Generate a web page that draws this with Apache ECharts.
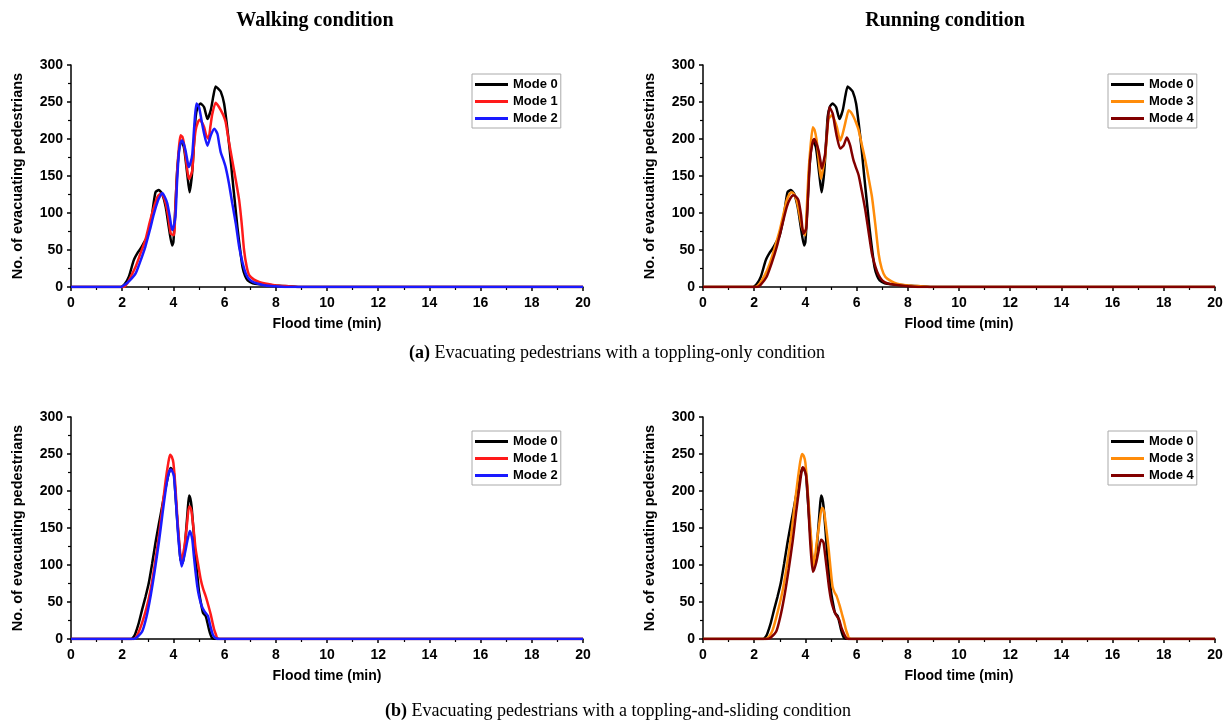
<!DOCTYPE html>
<html>
<head>
<meta charset="utf-8">
<title>Evacuating pedestrians</title>
<script src="https://cdn.jsdelivr.net/npm/echarts@6/dist/echarts.min.js"></script>
<style>
  html, body { margin: 0; padding: 0; background: #fff; }
  #chart { width: 1231px; height: 724px; }
</style>
</head>
<body>
<div id="chart"></div>
<script>
// [flood time (min), no. of evacuating pedestrians]
// (a) toppling-only
const toppleMode0 = [[0,0],[1.95,0],[2.1,4],[2.26,14],[2.45,36],[2.6,46],[2.72,52],[2.85,60],[2.98,68],[3.08,82],[3.17,99],[3.3,128],[3.43,131],[3.56,126],[3.7,108],[3.82,81],[3.95,56],[4.0,61],[4.08,110],[4.15,158],[4.28,198],[4.41,189],[4.54,153],[4.63,128],[4.74,158],[4.87,230],[4.96,244],[5.06,248],[5.2,243],[5.33,227],[5.46,239],[5.56,258],[5.65,271],[5.75,268],[5.85,264],[5.98,248],[6.1,216],[6.2,185],[6.3,149],[6.4,115],[6.5,81],[6.6,52],[6.7,27],[6.8,15],[6.9,9],[7.1,5],[7.35,3.6],[8,2],[8.5,1],[9,0],[20,0]];
const toppleMode1 = [[0,0],[2.05,0],[2.2,5],[2.35,15],[2.52,27],[2.7,44],[2.9,63],[3.08,88],[3.24,108],[3.38,122],[3.5,126],[3.6,123],[3.7,113],[3.8,95],[3.9,72],[4.02,70],[4.08,110],[4.15,158],[4.22,190],[4.28,205],[4.35,203],[4.41,194],[4.5,170],[4.6,146],[4.67,150],[4.74,158],[4.8,190],[4.87,212],[4.95,222],[5.03,226],[5.12,222],[5.2,216],[5.28,205],[5.37,200],[5.45,218],[5.52,234],[5.65,249],[5.75,245],[5.85,239],[5.95,232],[6.04,223],[6.15,200],[6.3,171],[6.45,142],[6.57,117],[6.67,85],[6.76,50],[6.86,28],[6.96,16],[7.15,10],[7.35,7],[7.7,4],[8,2],[8.5,1],[9,0],[20,0]];
const toppleMode2 = [[0,0],[1.95,0],[2.1,3],[2.3,9],[2.52,18],[2.7,34],[2.9,54],[3.08,77],[3.24,99],[3.4,117],[3.5,124],[3.56,127],[3.66,122],[3.76,113],[3.86,95],[3.95,77],[4.0,80],[4.08,95],[4.14,140],[4.21,180],[4.28,195],[4.34,198],[4.4,194],[4.47,185],[4.54,172],[4.6,162],[4.67,168],[4.74,180],[4.82,220],[4.9,248],[5.0,243],[5.1,225],[5.2,207],[5.33,191],[5.46,205],[5.6,214],[5.72,207],[5.78,195],[5.85,182],[5.95,172],[6.04,162],[6.17,140],[6.3,113],[6.44,85],[6.57,54],[6.7,33],[6.83,18],[6.95,11],[7.1,7],[7.35,4],[7.6,2],[8.0,1],[8.5,0],[20,0]];
const toppleMode3 = [[0,0],[2.05,0],[2.2,4],[2.4,15],[2.61,32],[2.8,53],[3.0,77],[3.14,98],[3.27,117],[3.37,125],[3.46,128],[3.56,125],[3.66,117],[3.76,100],[3.86,81],[3.99,70],[4.06,110],[4.12,153],[4.2,190],[4.29,216],[4.36,212],[4.44,198],[4.52,172],[4.61,146],[4.69,160],[4.77,176],[4.84,205],[4.9,227],[5.03,232],[5.13,226],[5.23,216],[5.36,198],[5.44,205],[5.52,216],[5.6,228],[5.69,239],[5.78,236],[5.88,230],[5.98,222],[6.08,212],[6.2,193],[6.34,171],[6.47,147],[6.6,122],[6.73,85],[6.86,45],[6.98,25],[7.12,14],[7.35,8],[7.58,4.5],[8,2],[8.5,1],[9,0],[20,0]];
const toppleMode4 = [[0,0],[2.1,0],[2.25,3],[2.48,13.5],[2.68,32],[2.88,54],[3.08,82],[3.27,108],[3.4,119],[3.53,124],[3.63,122],[3.73,117],[3.83,97],[3.92,72],[4.03,79],[4.1,120],[4.18,171],[4.26,192],[4.34,200],[4.42,195],[4.51,185],[4.58,172],[4.64,160],[4.7,168],[4.77,180],[4.86,215],[4.94,243],[5.07,234],[5.15,218],[5.23,203],[5.36,187],[5.49,191],[5.62,202],[5.68,198],[5.75,191],[5.82,180],[5.88,171],[5.98,161],[6.08,151],[6.2,130],[6.34,104],[6.47,74],[6.6,45],[6.73,28],[6.86,16],[7.0,9],[7.19,5],[7.5,3],[8,1],[8.5,0],[20,0]];

// (b) toppling-and-sliding
const slideMode0 = [[0,0],[2.35,0],[2.45,3],[2.52,8],[2.65,22],[2.78,40],[2.91,57],[3.04,76],[3.17,102],[3.3,130],[3.43,155],[3.56,179],[3.66,198],[3.76,215],[3.83,225],[3.89,231],[3.95,229],[4.02,224],[4.08,195],[4.15,161],[4.22,130],[4.28,107],[4.37,103],[4.43,118],[4.48,139],[4.55,170],[4.61,194],[4.66,190],[4.71,179],[4.79,145],[4.87,107],[4.94,84],[5.0,64],[5.08,48],[5.16,35],[5.26,31],[5.33,22],[5.39,13],[5.45,6],[5.52,1],[5.7,0],[20,0]];
const slideMode1 = [[0,0],[2.45,0],[2.6,6],[2.78,22],[2.95,42],[3.11,67],[3.27,100],[3.43,139],[3.57,178],[3.7,215],[3.8,238],[3.87,249],[3.94,246],[4.0,238],[4.08,205],[4.15,166],[4.23,130],[4.31,105],[4.38,115],[4.45,130],[4.53,155],[4.61,179],[4.66,178],[4.71,172],[4.79,148],[4.87,121],[4.97,100],[5.07,80],[5.16,68],[5.26,58],[5.36,46],[5.46,33],[5.53,22],[5.59,13],[5.66,6],[5.72,1],[5.9,0],[20,0]];
const slideMode2 = [[0,0],[2.45,0],[2.6,3],[2.78,10],[2.95,30],[3.11,58],[3.27,92],[3.43,130],[3.57,168],[3.7,202],[3.8,222],[3.89,229],[3.95,227],[4.02,220],[4.1,185],[4.18,143],[4.25,115],[4.32,98],[4.4,108],[4.48,121],[4.56,135],[4.64,146],[4.69,142],[4.74,134],[4.8,112],[4.87,89],[4.93,72],[5.0,58],[5.1,45],[5.22,37],[5.35,31],[5.44,18],[5.52,8],[5.59,3],[5.66,1],[5.8,0],[20,0]];
const slideMode3 = [[0,0],[2.45,0],[2.6,4],[2.73,13],[2.92,37],[3.12,67],[3.28,100],[3.44,139],[3.57,178],[3.7,215],[3.8,240],[3.87,250],[3.94,247],[4.0,238],[4.08,205],[4.16,166],[4.24,128],[4.31,98],[4.38,112],[4.44,130],[4.54,155],[4.64,177],[4.69,176],[4.74,170],[4.82,148],[4.91,121],[4.98,96],[5.06,71],[5.14,63],[5.22,58],[5.33,46],[5.45,31],[5.52,22],[5.58,13],[5.65,6],[5.71,1],[5.9,0],[20,0]];
const slideMode4 = [[0,0],[2.5,0],[2.65,2],[2.86,10],[3.02,30],[3.18,58],[3.35,95],[3.51,134],[3.64,172],[3.77,206],[3.85,226],[3.9,232],[3.96,229],[4.03,220],[4.1,190],[4.16,148],[4.22,115],[4.29,91],[4.35,95],[4.42,103],[4.51,118],[4.61,134],[4.66,133],[4.71,130],[4.79,108],[4.87,85],[4.93,68],[5.0,53],[5.1,40],[5.19,33],[5.32,26],[5.4,16],[5.48,9],[5.55,4],[5.61,1],[5.8,0],[20,0]];

const walkModes = ["Mode 0", "Mode 1", "Mode 2"];
const runModes = ["Mode 0", "Mode 3", "Mode 4"];
const modeColors = {
  "Mode 0": "#000000",
  "Mode 1": "#ff1a1a",
  "Mode 2": "#1a1aff",
  "Mode 3": "#ff8c0a",
  "Mode 4": "#820000"
};

const SANS = "Liberation Sans";
const SERIF = "Liberation Serif";

// grids: [left, top]
const grids = [
  { left: 71, top: 65 },
  { left: 703, top: 65 },
  { left: 71, top: 417 },
  { left: 703, top: 417 }
];

function line(name, data, idx) {
  return {
    name: name,
    type: "line",
    xAxisIndex: idx,
    yAxisIndex: idx,
    data: data,
    showSymbol: false,
    smooth: 0.2,
    animation: false,
    lineStyle: { color: modeColors[name], width: 2.5 },
    itemStyle: { color: modeColors[name] }
  };
}

function xAxis(idx) {
  return {
    type: "value",
    gridIndex: idx,
    min: 0,
    max: 20,
    interval: 2,
    name: "Flood time (min)",
    nameLocation: "middle",
    nameGap: 30,
    nameTextStyle: { fontFamily: SANS, fontWeight: "bold", fontSize: 14, color: "#000" },
    axisLine: { lineStyle: { color: "#000", width: 1.5 } },
    axisTick: { length: 4, lineStyle: { color: "#000", width: 1.5 } },
    minorTick: { show: true, splitNumber: 2, length: 3, lineStyle: { color: "#000", width: 1.2 } },
    axisLabel: { margin: 9, fontFamily: SANS, fontWeight: "bold", fontSize: 14, color: "#000" },
    splitLine: { show: false }
  };
}

function yAxis(idx) {
  return {
    type: "value",
    gridIndex: idx,
    min: 0,
    max: 300,
    interval: 50,
    name: "No. of evacuating pedestrians",
    nameLocation: "middle",
    nameGap: 46,
    nameTextStyle: { fontFamily: SANS, fontWeight: "bold", fontSize: 14.5, color: "#000" },
    axisLine: { show: true, lineStyle: { color: "#000", width: 1.5 } },
    axisTick: { show: true, length: 4, lineStyle: { color: "#000", width: 1.5 } },
    minorTick: { show: true, splitNumber: 2, length: 3, lineStyle: { color: "#000", width: 1.2 } },
    axisLabel: { margin: 8, fontFamily: SANS, fontWeight: "bold", fontSize: 14, color: "#000" },
    splitLine: { show: false }
  };
}

function legend(modes, left, top) {
  return {
    data: modes,
    left: left,
    top: top,
    orient: "vertical",
    icon: "rect",
    itemWidth: 33,
    itemHeight: 3,
    itemGap: 4,
    itemTextGap: 3,
    padding: [4, 3, 3, 3],
    borderColor: "#aaaaaa",
    borderWidth: 1,
    selectedMode: false,
    textStyle: { fontFamily: SANS, fontWeight: "bold", fontSize: 13, color: "#000", lineHeight: 13 }
  };
}

function caption(x, y, text, font, bold) {
  return {
    type: "text",
    x: x,
    y: y,
    style: {
      text: text,
      fill: "#000",
      font: font,
      align: "center",
      verticalAlign: "middle",
      rich: bold ? { b: { fontFamily: SERIF, fontWeight: "bold", fontSize: 18 } } : undefined
    }
  };
}

const chart = echarts.init(document.getElementById("chart"), null, { renderer: "canvas" });

const series = []
  .concat(walkModes.map((m, i) => line(m, [toppleMode0, toppleMode1, toppleMode2][i], 0)))
  .concat(runModes.map((m, i) => line(m, [toppleMode0, toppleMode3, toppleMode4][i], 1)))
  .concat(walkModes.map((m, i) => line(m, [slideMode0, slideMode1, slideMode2][i], 2)))
  .concat(runModes.map((m, i) => line(m, [slideMode0, slideMode3, slideMode4][i], 3)));

chart.setOption({
  backgroundColor: "#fff",
  animation: false,
  grid: grids.map(g => ({ left: g.left, top: g.top, width: 512, height: 222, containLabel: false })),
  xAxis: [0, 1, 2, 3].map(xAxis),
  yAxis: [0, 1, 2, 3].map(yAxis),
  legend: [
    legend(walkModes, 472, 74),
    legend(runModes, 1108, 74),
    legend(walkModes, 472, 431),
    legend(runModes, 1108, 431)
  ],
  graphic: [
    caption(315, 21, "Walking condition", "bold 20px '" + SERIF + "'"),
    caption(945, 21, "Running condition", "bold 20px '" + SERIF + "'"),
    caption(617, 353, "{b|(a)} Evacuating pedestrians with a toppling-only condition", "18px '" + SERIF + "'", true),
    caption(618, 711, "{b|(b)} Evacuating pedestrians with a toppling-and-sliding condition", "18px '" + SERIF + "'", true)
  ],
  series: series
});
</script>
</body>
</html>
